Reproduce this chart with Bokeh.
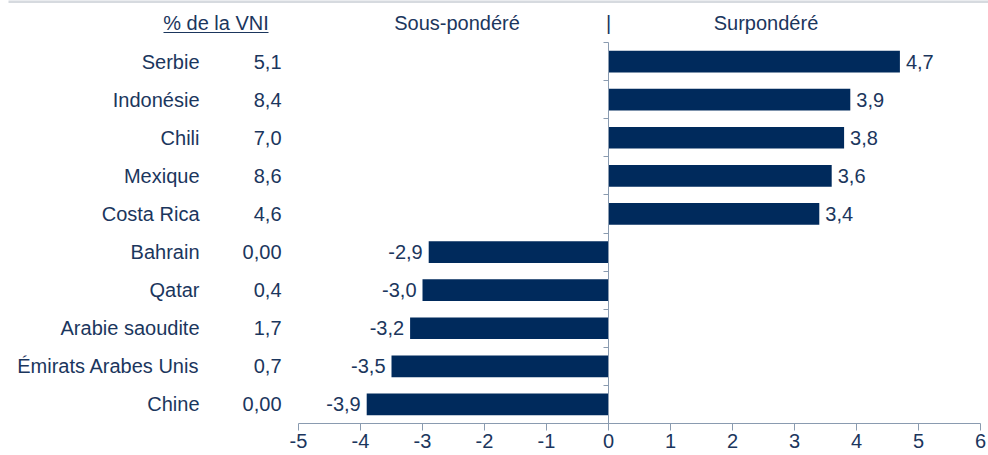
from bokeh.plotting import figure
from bokeh.models import ColumnDataSource, Range1d, FixedTicker
from bokeh.core.properties import value
from bokeh.embed import file_html
from bokeh.resources import INLINE

# ---- data ----
countries = ["Serbie", "Indonésie", "Chili", "Mexique", "Costa Rica",
             "Bahrain", "Qatar", "Arabie saoudite", "Émirats Arabes Unis", "Chine"]
vni_labels = ["5,1", "8,4", "7,0", "8,6", "4,6", "0,00", "0,4", "1,7", "0,7", "0,00"]
active_weight = [4.7, 3.9, 3.8, 3.6, 3.4, -2.9, -3.0, -3.2, -3.5, -3.9]
x_ticks = [-5, -4, -3, -2, -1, 0, 1, 2, 3, 4, 5, 6]
header_vni = "% de la VNI"
header_under = "Sous-pondéré"
header_over = "Surpondéré"

# ---- layout helpers ----
W, H = 988, 455
FRAME_H = 423
ZERO_PX = 608
PX_PER_UNIT = 62.0
ROW_PX = 38.1

def px2x(px):
    return (px - ZERO_PX) / PX_PER_UNIT

def py2y(py):
    return (FRAME_H - py) / ROW_PX

NAVY = "#002A5C"
TEXT = "#1B365D"
GRAY = "#8A9BB0"
FONT = value("Liberation Sans")
FS = "20px"

n = len(countries)
ys = [n - 0.5 - i for i in range(n)]
fmt = [f"{v:.1f}".replace(".", ",") for v in active_weight]

src = ColumnDataSource(dict(y=ys, val=active_weight, country=countries, vni=vni_labels, lab=fmt))
pos = ColumnDataSource(dict(y=[y for y, v in zip(ys, active_weight) if v >= 0],
                            val=[v for v in active_weight if v >= 0],
                            lab=[l for l, v in zip(fmt, active_weight) if v >= 0]))
neg = ColumnDataSource(dict(y=[y for y, v in zip(ys, active_weight) if v < 0],
                            val=[v for v in active_weight if v < 0],
                            lab=[l for l, v in zip(fmt, active_weight) if v < 0]))

p = figure(width=W, height=H, output_backend="svg", toolbar_location=None,
           x_range=Range1d(px2x(0), px2x(W)), y_range=Range1d(0, py2y(0)),
           min_border_left=0, min_border_right=0, min_border_top=0, min_border_bottom=H - FRAME_H)
p.outline_line_color = None
p.xgrid.visible = False
p.ygrid.visible = False
p.background_fill_color = "white"
p.border_fill_color = "white"

# bars
p.hbar(y="y", left=0, right="val", height=0.57, source=src, fill_color=NAVY, line_color=None)

# bar value labels
p.text(x="val", y="y", text="lab", source=pos, x_offset=6, text_align="left", text_baseline="middle",
       text_font=FONT, text_font_size=FS, text_color=TEXT)
p.text(x="val", y="y", text="lab", source=neg, x_offset=-6, text_align="right", text_baseline="middle",
       text_font=FONT, text_font_size=FS, text_color=TEXT)

# left columns
src_left = ColumnDataSource(dict(y=ys, country=countries, vni=vni_labels,
                                 xc=[px2x(199)] * n, xv=[px2x(281)] * n))
p.text(x="xc", y="y", text="country", source=src_left, text_align="right", text_baseline="middle",
       text_font=FONT, text_font_size=FS, text_color=TEXT)
p.text(x="xv", y="y", text="vni", source=src_left, text_align="right", text_baseline="middle",
       text_font=FONT, text_font_size=FS, text_color=TEXT)

# headers
hy = py2y(22)
hdr = ColumnDataSource(dict(x=[px2x(215.5), px2x(456.5), 0, px2x(765.5)],
                            y=[hy] * 4, t=[header_vni, header_under, "|", header_over]))
p.text(x="x", y="y", text="t", source=hdr, text_align="center", text_baseline="middle",
       text_font=FONT, text_font_size=FS, text_color=TEXT)
# underline of "% de la VNI"
p.segment(x0=[px2x(163)], x1=[px2x(268)], y0=[py2y(32)], y1=[py2y(32)], line_color=TEXT, line_width=1.2)

# top gray rule
p.segment(x0=[px2x(8)], x1=[px2x(W)], y0=[py2y(1)], y1=[py2y(1)], line_color="#D6DADF", line_width=3)

# x axis
xa = p.xaxis[0]
xa.ticker = FixedTicker(ticks=x_ticks)
xa.major_label_overrides = {t: str(t) for t in x_ticks}
xa.bounds = (x_ticks[0], x_ticks[-1])
xa.axis_line_color = GRAY
xa.major_tick_line_color = GRAY
xa.major_tick_in = 0
xa.major_tick_out = 7
xa.minor_tick_line_color = None
xa.major_label_text_font = "Liberation Sans"
xa.major_label_text_font_size = FS
xa.major_label_text_color = TEXT
xa.major_label_standoff = 3

# y axis at zero with ticks at row boundaries
ya = p.yaxis[0]
ya.fixed_location = 0
ya.ticker = FixedTicker(ticks=list(range(n + 1)))
ya.bounds = (0, n)
ya.axis_line_color = GRAY
ya.major_tick_line_color = GRAY
ya.major_tick_in = 0
ya.major_tick_out = 5
ya.minor_tick_line_color = None
ya.major_label_text_font_size = "0px"
ya.major_label_text_alpha = 0

open("out.html", "w").write(file_html(p, INLINE))
